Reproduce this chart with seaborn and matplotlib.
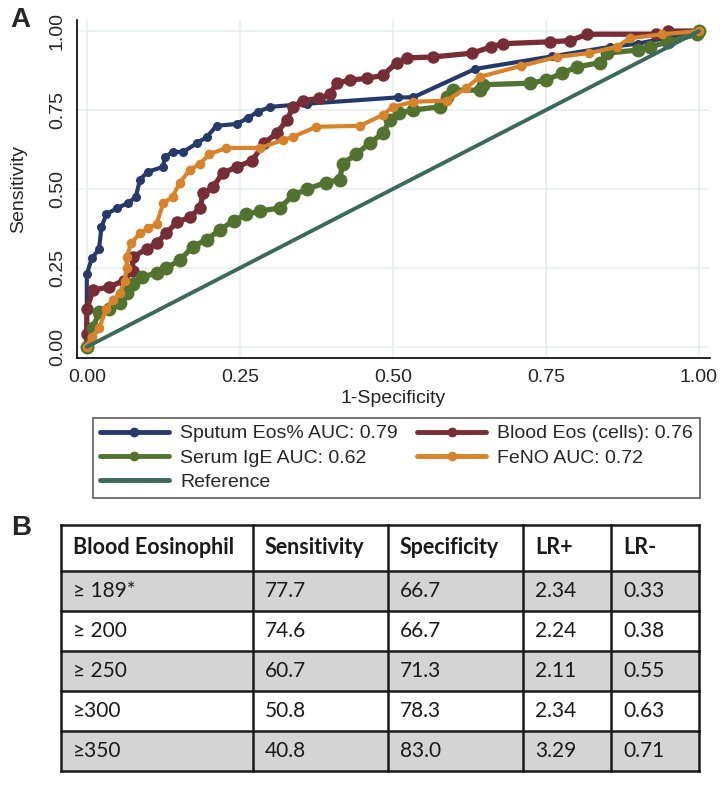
import pandas as pd
import matplotlib
matplotlib.use("Agg")
import matplotlib.pyplot as plt
from matplotlib.patches import Rectangle
from matplotlib.lines import Line2D
import seaborn as sns

# ---- Datos de las curvas ROC --------------------------------------------------

sputum_x = [0, 0, 0, 0.008, 0.02, 0.024, 0.032, 0.05, 0.067, 0.08, 0.087, 0.10, 0.125, 0.127, 0.14,
            0.157, 0.18, 0.196, 0.212, 0.245, 0.263, 0.28, 0.30, 0.36, 0.508, 0.533, 0.634, 0.76,
            0.855, 0.90, 1.0]
sputum_y = [0, 0.12, 0.23, 0.28, 0.31, 0.38, 0.42, 0.44, 0.455, 0.475, 0.53, 0.555, 0.57, 0.60, 0.617,
            0.617, 0.645, 0.665, 0.70, 0.706, 0.725, 0.745, 0.76, 0.77, 0.79, 0.79, 0.88, 0.92,
            0.95, 0.96, 1.0]

blood_x = [0, 0, 0, 0.01, 0.037, 0.06, 0.075, 0.075, 0.098, 0.114, 0.13, 0.147, 0.168, 0.185, 0.19,
           0.206, 0.222, 0.245, 0.27, 0.29, 0.31, 0.327, 0.337, 0.353, 0.38, 0.397, 0.408, 0.43,
           0.457, 0.484, 0.506, 0.523, 0.565, 0.63, 0.66, 0.68, 0.757, 0.79, 0.817, 0.93, 0.95, 1.0]
blood_y = [0, 0.04, 0.12, 0.18, 0.19, 0.21, 0.24, 0.285, 0.31, 0.33, 0.36, 0.395, 0.41, 0.44, 0.487,
           0.506, 0.55, 0.57, 0.59, 0.645, 0.677, 0.718, 0.76, 0.78, 0.787, 0.80, 0.835, 0.845,
           0.85, 0.86, 0.90, 0.915, 0.918, 0.93, 0.95, 0.96, 0.966, 0.97, 0.99, 0.99, 1.0, 1.0]

serum_x = [0, 0.01, 0.02, 0.037, 0.054, 0.065, 0.075, 0.09, 0.114, 0.13, 0.152, 0.173, 0.196, 0.217,
           0.24, 0.26, 0.283, 0.315, 0.337, 0.36, 0.39, 0.413, 0.418, 0.44, 0.462, 0.484, 0.495,
           0.51, 0.533, 0.577, 0.588, 0.598, 0.642, 0.647, 0.724, 0.75, 0.777, 0.80, 0.838, 0.85,
           0.90, 0.92, 0.95, 0.997, 1.0]
serum_y = [0, 0.06, 0.11, 0.12, 0.14, 0.17, 0.20, 0.22, 0.235, 0.25, 0.275, 0.317, 0.34, 0.37,
           0.40, 0.42, 0.43, 0.44, 0.48, 0.50, 0.52, 0.53, 0.58, 0.61, 0.645, 0.677, 0.72,
           0.74, 0.75, 0.76, 0.79, 0.813, 0.813, 0.83, 0.835, 0.845, 0.867, 0.886, 0.90, 0.93,
           0.94, 0.95, 0.966, 0.99, 1.0]

feno_x = [0, 0.008, 0.02, 0.032, 0.043, 0.054, 0.062, 0.065, 0.065, 0.073, 0.087, 0.10, 0.114, 0.125,
          0.14, 0.152, 0.168, 0.185, 0.20, 0.228, 0.283, 0.32, 0.337, 0.375, 0.446, 0.484, 0.50,
          0.533, 0.588, 0.62, 0.642, 0.71, 0.768, 0.82, 0.866, 0.887, 0.94, 1.0]
feno_y = [0, 0.03, 0.06, 0.12, 0.15, 0.17, 0.21, 0.25, 0.285, 0.33, 0.36, 0.375, 0.39, 0.455,
          0.475, 0.52, 0.56, 0.58, 0.61, 0.63, 0.63, 0.655, 0.665, 0.697, 0.70, 0.735, 0.76,
          0.776, 0.78, 0.82, 0.855, 0.89, 0.918, 0.93, 0.95, 0.977, 0.99, 1.0]

reference_x = [0, 1]
reference_y = [0, 1]

# ---- Datos de la tabla B -------------------------------------------------------

encabezados = ["Blood Eosinophil", "Sensitivity", "Specificity", "LR+", "LR-"]
umbrales = ["≥ 189*", "≥ 200", "≥ 250", "≥300", "≥350"]
sensibilidad = [77.7, 74.6, 60.7, 50.8, 40.8]
especificidad = [66.7, 66.7, 71.3, 78.3, 83.0]
lr_pos = [2.34, 2.24, 2.11, 2.34, 3.29]
lr_neg = [0.33, 0.38, 0.55, 0.63, 0.71]

# ---- Estilo ----------------------------------------------------------------

sns.set_style("whitegrid")
plt.rcParams["font.family"] = ["Liberation Sans", "DejaVu Sans"]
FS = 14

W, H = 728, 785
fig = plt.figure(figsize=(W / 100, H / 100), dpi=100)
fig.patch.set_facecolor("white")

ax = fig.add_axes([77 / W, 1 - 358 / H, (710 - 77) / W, (358 - 20) / H])

series = [
    ("Sputum Eos% AUC: 0.79", sputum_x, sputum_y, "#263a6a", 3.0, 6.5),
    ("Blood Eos (cells): 0.76", blood_x, blood_y, "#772d35", 3.8, 9.0),
    ("Serum IgE AUC: 0.62", serum_x, serum_y, "#52732f", 3.8, 10.0),
    ("FeNO AUC: 0.72", feno_x, feno_y, "#d7832c", 3.0, 7.0),
]

handles = {}
for nombre, xs, ys, color, lw, ms in series:
    df = pd.DataFrame({"x": xs, "y": ys})
    sns.lineplot(data=df, x="x", y="y", sort=False, estimator=None, marker="o",
                 color=color, linewidth=lw, markersize=ms, markeredgewidth=0, ax=ax)
    handles[nombre] = Line2D([], [], color=color, linewidth=3.5, marker="o",
                             markersize=7, markeredgewidth=0)

df_ref = pd.DataFrame({"x": reference_x, "y": reference_y})
sns.lineplot(data=df_ref, x="x", y="y", sort=False, estimator=None, color="#3b695d",
             linewidth=2.8, ax=ax)
handles["Reference"] = Line2D([], [], color="#3b695d", linewidth=3.5)

ax.set_xlim(-0.016, 1.018)
ax.set_ylim(-0.035, 1.035)
ticks = [0, 0.25, 0.5, 0.75, 1.0]
ax.set_xticks(ticks)
ax.set_yticks(ticks)
ax.set_xticklabels([f"{t:.2f}" for t in ticks], fontsize=FS)
ax.set_yticklabels([f"{t:.2f}" for t in ticks], fontsize=FS, rotation=90, va="center")
ax.tick_params(axis="both", length=5, width=1, color="black", pad=3)
ax.set_xlabel("1-Specificity", fontsize=FS)
ax.set_ylabel("Sensitivity", fontsize=FS)
ax.xaxis.set_label_coords(0.5, -0.095)
ax.yaxis.set_label_coords(-0.079, 0.5)
ax.grid(color="#e8edef", linewidth=1.2)
for lado in ["top", "right"]:
    ax.spines[lado].set_visible(False)
for lado in ["left", "bottom"]:
    ax.spines[lado].set_color("black")
    ax.spines[lado].set_linewidth(1.2)

orden = ["Sputum Eos% AUC: 0.79", "Serum IgE AUC: 0.62", "Reference",
         "Blood Eos (cells): 0.76", "FeNO AUC: 0.72"]
leg = fig.legend([handles[k] for k in orden], orden, ncol=2, loc="center",
                 bbox_to_anchor=(93 / W, 1 - 501 / H, (700 - 93) / W, (501 - 415) / H),
                 mode="expand", frameon=True, fancybox=False, fontsize=FS,
                 handlelength=3.55, handletextpad=0.57, borderaxespad=0,
                 labelspacing=0.35, borderpad=0.35)
leg.get_frame().set_edgecolor("#333333")
leg.get_frame().set_linewidth(1.2)

fig.text(20 / W, 1 - 20 / H, "A", fontsize=20, fontweight="bold", ha="center", va="center")
fig.text(21 / W, 1 - 528 / H, "B", fontsize=20, fontweight="bold", ha="center", va="center")

# ---- Tabla B ------------------------------------------------------------------

tax = fig.add_axes([0, 0, 1, 1])
tax.set_xlim(0, W)
tax.set_ylim(H, 0)
tax.axis("off")

col_x = [61, 253, 388, 523, 611, 699]
row_y = [525, 571, 611, 651, 691, 731, 771]

filas = [encabezados] + [
    [u, f"{s:.1f}", f"{e:.1f}", f"{p:.2f}", f"{n:.2f}"]
    for u, s, e, p, n in zip(umbrales, sensibilidad, especificidad, lr_pos, lr_neg)
]

for i, fila in enumerate(filas):
    y0, y1 = row_y[i], row_y[i + 1]
    fondo = "#d4d4d4" if i in (1, 3, 5) else "white"
    tax.add_patch(Rectangle((col_x[0], y0), col_x[-1] - col_x[0], y1 - y0,
                            facecolor=fondo, edgecolor="none"))
    for j, texto in enumerate(fila):
        tax.text(col_x[j] + 12, (y0 + y1) / 2, texto, ha="left", va="center",
                 fontsize=15 if i else 15.5, fontweight="bold" if i == 0 else "normal",
                 family=["Lato", "DejaVu Sans"], color="#1a1a1a")

for y in row_y:
    tax.plot([col_x[0], col_x[-1]], [y, y], color="#1a1a1a", linewidth=1.8,
             solid_capstyle="projecting")
for x in col_x:
    tax.plot([x, x], [row_y[0], row_y[-1]], color="#1a1a1a", linewidth=1.8,
             solid_capstyle="projecting")

fig.savefig("out.png", dpi=100)
